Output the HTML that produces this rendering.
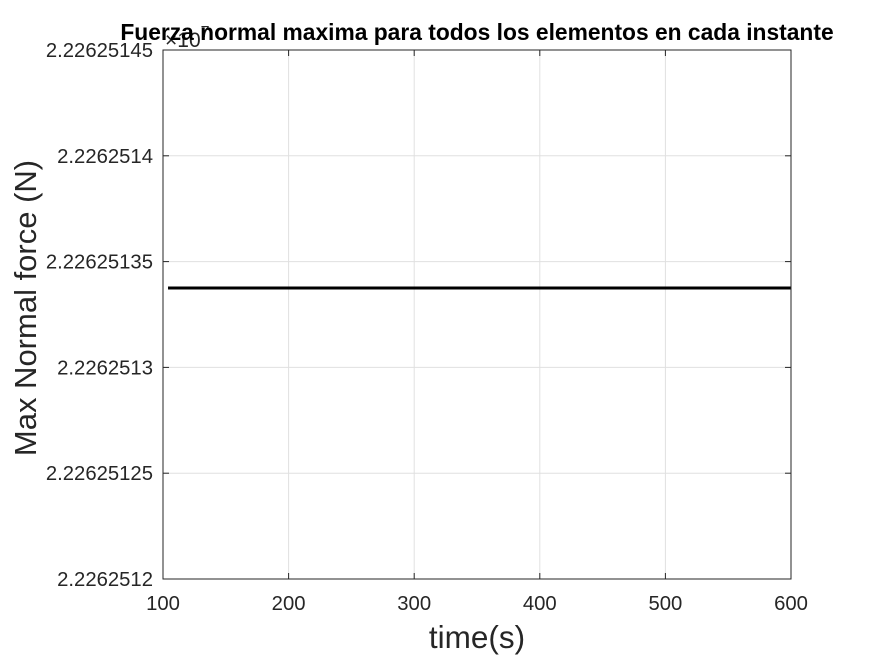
<!DOCTYPE html>
<html><head><meta charset="utf-8"><style>
body{margin:0;background:#fff;}
svg text{font-family:"Liberation Sans",Arial,sans-serif;}
</style></head><body>
<svg id="chart" width="875" height="656" xmlns="http://www.w3.org/2000/svg">
<rect width="875" height="656" fill="#fff"/>
<g id="grid"></g>
<g id="ticks"></g>
<g id="series"></g>
<rect x="163" y="50" width="628" height="529" fill="none" stroke="#262626" stroke-width="1"/>
<text x="165" y="47" font-size="21" fill="#262626">×10<tspan dy="-10" font-size="16">7</tspan></text>
<text x="477" y="40" text-anchor="middle" font-size="22.8" font-weight="bold" fill="#000">Fuerza normal maxima para todos los elementos en cada instante</text>
<text x="477" y="648" text-anchor="middle" font-size="31.5" fill="#262626">time(s)</text>
<text transform="translate(36,308) rotate(-90)" text-anchor="middle" font-size="31" fill="#262626">Max Normal force (N)</text>
</svg>
<script>
const xTicks=[100,200,300,400,500,600];
const yTicks=[22262512,22262512.5,22262513,22262513.5,22262514,22262514.5];
const yTickLabels=["2.2262512","2.22625125","2.2262513","2.22625135","2.2262514","2.22625145"];
const times=[104,600];
const forces=[22262513.375,22262513.375];
const L=163,R=791,T=50,B=579;
const xs=v=>L+(v-100)/(600-100)*(R-L);
const ys=v=>B-(v-22262512)/(22262514.5-22262512)*(B-T);
const NS="http://www.w3.org/2000/svg";
const grid=document.getElementById('grid'),ticks=document.getElementById('ticks'),ser=document.getElementById('series');
function mk(tag,at,p){const e=document.createElementNS(NS,tag);for(const k in at)e.setAttribute(k,at[k]);p.appendChild(e);return e;}
xTicks.forEach(v=>{const x=xs(v);
 const g=mk('line',{x1:x,x2:x,y1:T,y2:B,stroke:'#e0e0e0','stroke-width':1},grid);
 
 
 mk('line',{x1:x,x2:x,y1:B,y2:B-6,stroke:'#262626'},ticks);
 mk('line',{x1:x,x2:x,y1:T,y2:T+6,stroke:'#262626'},ticks);
 const t=mk('text',{x:x,y:B+31,'text-anchor':'middle','font-size':20.3,fill:'#262626'},ticks);t.textContent=v;
 
 
});
yTicks.forEach((v,i)=>{const y=ys(v);
 const g=mk('line',{x1:L,x2:R,y1:y,y2:y,stroke:'#e0e0e0','stroke-width':1},grid);
 
 
 mk('line',{x1:L,x2:L+6,y1:y,y2:y,stroke:'#262626'},ticks);
 mk('line',{x1:R,x2:R-6,y1:y,y2:y,stroke:'#262626'},ticks);
 const t=mk('text',{x:L-10,y:y+7,'text-anchor':'end','font-size':20.3,fill:'#262626'},ticks);t.textContent=yTickLabels[i];
 
 
});
const pl=mk('polyline',{points:times.map((t,i)=>xs(t)+','+ys(forces[i])).join(' '),fill:'none',stroke:'#000','stroke-width':3},ser);


</script>
</body></html>
